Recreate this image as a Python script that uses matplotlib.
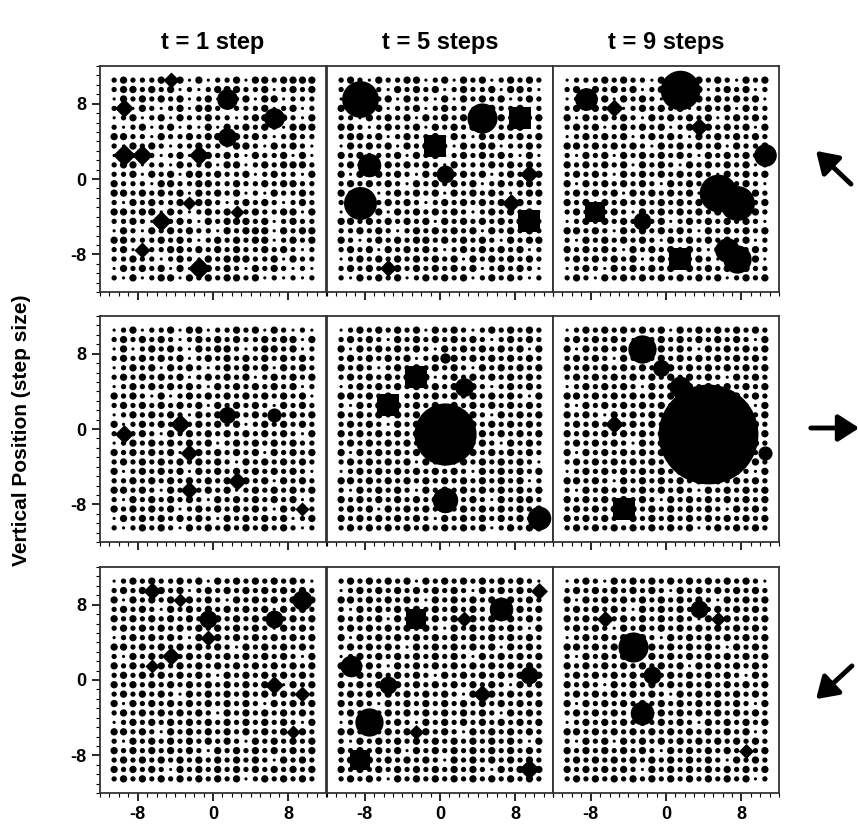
import numpy as np
import matplotlib.pyplot as plt
from matplotlib.patches import FancyArrowPatch
from matplotlib.ticker import FixedLocator, MultipleLocator

plt.rcParams['font.family'] = ['Liberation Sans Narrow', 'Liberation Sans', 'DejaVu Sans']
plt.rcParams['font.weight'] = 'bold'
plt.rcParams['axes.unicode_minus'] = False

titles = ["t = 1 step", "t = 5 steps", "t = 9 steps"]
ylab = "Vertical Position (step size)"
tick_vals = [-8, 0, 8]
sites = np.arange(-10.5, 11.0, 1.0)   # 22 lattice sites per axis

# background occupancy, top row of lattice first; 1 = small dot, 2 = medium, 3 = large
dots_r0c0 = ["2322231313122313323333", "2332323121233322312323", "1323232312312231331222",
             "2213212313321222312312", "1231231322322123323213", "2123123121313232321333",
             "3322132232332323212322", "2132321223221332132321", "1323212312323213223131",
             "2331221322313312323332", "2231323133232231232213", "3222133223322322323322",
             "3323232313232312132232", "2132322323321232321232", "3323313212323323223313",
             "2232132321323332312322", "1321323232213233313233", "3322232321232323312323",
             "2313223323232322323212", "2232212321323332231322", "1323231312323213232121",
             "2131233132323323121212"]
dots_r0c1 = ["2321322331231323123232", "2333213232312322313321", "1323231322131323231232",
             "3232312231232213322312", "2213232313232321232323", "3321232231323232123312",
             "2332312322313213232323", "1323231323221323312232", "3232223132312323232131",
             "2323132323213222323232", "3132323213232323123223", "2323232132323231232332",
             "3232123232313232321233", "2323232321232323232322", "1232313232323212323231",
             "3323232323132323232322", "2232321232323231323232", "3212323233232323213233",
             "2323132323212323232312", "1232323232323132323232", "2323213232323231232321",
             "2132323123232312323212"]
dots_r0c2 = ["1222323221313232321323", "2313232312323231232312", "1232313232123232323231",
             "2323231232323123231322", "3132323213232323123232", "2323123232312323232313",
             "1232323123232132323232", "3323232321323232313223", "2132313232323213232321",
             "3232323132321323232312", "2323213232323232132323", "3132323232132323232321",
             "2323231323232313232332", "3231323232323231323223", "2323232132323232313232",
             "1232323232312323232321", "3323213232323213232323", "2132323232132323232312",
             "3232321323232321323232", "2323232312323232123231", "1232132323231323232322",
             "2321323232323232312323"]
dots_r1c0 = ["1231223133122323132121", "2323232123232322323313", "1312323213233212332312",
             "2323232312323232323232", "1232313232123232313232", "2323232312323231232323",
             "1232323232132323232312", "3232131232323232323231", "2323232323132323213232",
             "1232323213232323232323", "3123232323232312323232", "2323213232323232323213",
             "1232323232312323232322", "3232323123232323132323", "2323232323232132323232",
             "3123232313232323232321", "2232323232323232313232", "3323213232323123232323",
             "2132323232132323232312", "3232323123232323213232", "1323232323213232323123",
             "2123232132323232323212"]
dots_r1c1 = ["1232323231323212323232", "2323213232323232123232", "3132323232132323232313",
             "2323232312323232323232", "3232123232323213232323", "2323232323123232323232",
             "1232323232323232123232", "3323231232323232323213", "2132323232313232323232",
             "3232323232323232132323", "2323213232323232323232", "3232323232132323232323",
             "2323232323232323213232", "3132323232323232323232", "2323232313232323232321",
             "1232323232323213232323", "3323232323232323232312", "2132323213232323232323",
             "3232323232323232132332", "2323132323232323232323", "3232323232132323232322",
             "2323232323232323123233"]
dots_r1c2 = ["1232323232313232323232", "2323232132323232323213", "3132323232323213232323",
             "2323213232323232323232", "3232323232132323232323", "2323232323232323213232",
             "1232323213232323232323", "3323232323232132323232", "2132323232323232323213",
             "3232132323232323232323", "2323232323213232323232", "3232323232323232321323",
             "2323232132323232323232", "3132323232323232132323", "2323232323213232323232",
             "1232323232323232323213", "3323213232323232323232", "2132323232323213232323",
             "3232323232132323232323", "2323232323232323213232", "3232321323232323232323",
             "2323232323232312323232"]
dots_r2c0 = ["1232322323132323232321", "2323232312323232323232", "3132323232321323232323",
             "2323213232323232313232", "3232323232132323232323", "2323232323232323213232",
             "1232323213232323232323", "3323232323232132323232", "2132323232323232323213",
             "3232132323232323232323", "2323232323213232323232", "3232323232323232321323",
             "2323232132323232323232", "3132323232323232132323", "2323232323213232323232",
             "1232323232323232323213", "3323213232323232323232", "2132323232323213232323",
             "3232323232132323232323", "2323232323232323213232", "3232321323232323232323",
             "2323232323232312323232"]
dots_r2c1 = ["2323232313232323232321", "1232323232323213232323", "3323232321323232323232",
             "2132323232323232132323", "3232313232323232323232", "2323232323213232323213",
             "3132323232323232323232", "2323232132323232313232", "1232323232323213232323",
             "3323213232323232323232", "2132323232132323232323", "3232323232323232321323",
             "2323232323232132323232", "3232132323232323232323", "2323232323232323213232",
             "1232323213232323232323", "3323232323232132323232", "2132323232323232323213",
             "3232323132323232323232", "2323232323213232323232", "3232323232323232132323",
             "2323213232323232323232"]
dots_r2c2 = ["1232132323232323232321", "2323232323213232323232", "3132323232323232132323",
             "2323232132323232323232", "3232323232323213232323", "2323213232323232323232",
             "1232323232132323232323", "3323232323232323213232", "2132323213232323232323",
             "3232323232323132323232", "2323232323232323232132", "3232132323232323232323",
             "2323232323213232323232", "3132323232323232323213", "2323232132323232323232",
             "1232323232323213232323", "3323232323232323232312", "2132313232323232323232",
             "3232323232132323232323", "2323232323232323213232", "3232323213232323232323",
             "2323232323232323232312"]

# large particles: (x, y, diameter in steps, shape)
big_r0c0 = [(-4.5, 10.5, 1.7, 'D'), (1.5, 8.5, 2.2, 'o'), (-9.5, 7.5, 2.0, 'D'), (6.5, 6.5, 2.2, 'o'),
            (1.5, 4.5, 2.0, 'o'), (-9.5, 2.5, 2.4, 'D'), (-7.5, 2.5, 2.2, 'D'), (-1.5, 2.5, 2.2, 'D'),
            (-2.5, -2.5, 1.5, 'D'), (2.5, -3.5, 1.5, 'D'), (-5.5, -4.5, 2.2, 'D'), (-7.5, -7.5, 1.7, 'D'),
            (-1.5, -9.5, 2.4, 'D')]
big_r0c1 = [(-8.5, 8.5, 3.9, 'o'), (4.5, 6.5, 3.2, 'o'), (8.5, 6.5, 2.3, 's'), (-0.5, 3.5, 2.3, 's'),
            (-7.5, 1.5, 2.5, 'o'), (0.5, 0.5, 1.9, 'o'), (9.5, 0.5, 2.0, 'D'), (-8.5, -2.5, 3.5, 'o'),
            (7.5, -2.5, 2.0, 'D'), (9.5, -4.5, 2.3, 's'), (-5.5, -9.5, 1.8, 'D')]
big_r0c2 = [(-8.5, 8.5, 2.4, 'o'), (-5.5, 7.5, 1.9, 'D'), (1.5, 9.5, 4.2, 'o'), (3.5, 5.5, 2.0, 'D'),
            (10.5, 2.5, 2.4, 'o'), (5.5, -1.5, 4.0, 'o'), (7.5, -2.5, 3.7, 'o'), (-7.5, -3.5, 2.1, 's'),
            (-2.5, -4.5, 1.9, 'o'), (1.5, -8.5, 2.3, 's'), (6.5, -7.5, 2.6, 'o'), (7.5, -8.5, 3.0, 'o')]
big_r1c0 = [(-9.5, -0.5, 2.0, 'D'), (-3.5, 0.5, 2.2, 'D'), (1.5, 1.5, 1.8, 'o'), (6.5, 1.5, 1.5, 'o'),
            (-2.5, -2.5, 1.9, 'D'), (2.5, -5.5, 2.0, 'D'), (-2.5, -6.5, 1.9, 'D'), (9.5, -8.5, 1.5, 'D')]
big_r1c1 = [(0.5, 7.5, 1.1, 'o'), (-2.5, 5.5, 2.4, 's'), (2.5, 4.5, 2.0, 'o'), (-5.5, 2.5, 2.3, 's'),
            (0.5, -0.5, 6.6, 'o'), (0.5, -7.5, 2.7, 'o'), (10.5, -9.5, 2.5, 'o')]
big_r1c2 = [(-2.5, 8.5, 3.0, 'o'), (-0.5, 6.5, 1.8, 'o'), (1.5, 4.5, 2.3, 'o'), (4.5, -0.5, 10.6, 'o'),
            (10.5, -2.5, 1.5, 'o'), (-5.5, 0.5, 2.0, 'D'), (-4.5, -8.5, 2.3, 's')]
big_r2c0 = [(-6.5, 9.5, 1.9, 'D'), (-3.5, 8.5, 1.5, 'D'), (-0.5, 6.5, 1.9, 'o'), (-0.5, 4.5, 1.7, 'D'),
            (9.5, 8.5, 2.1, 'o'), (6.5, 6.5, 1.9, 'o'), (-4.5, 2.5, 2.0, 'D'), (-6.5, 1.5, 1.5, 'D'),
            (6.5, -0.5, 2.0, 'D'), (9.5, -1.5, 1.7, 'D'), (8.5, -5.5, 1.5, 'D')]
big_r2c1 = [(10.5, 9.5, 1.8, 'D'), (-9.5, 1.5, 2.3, 'o'), (-5.5, -0.5, 1.9, 'o'), (-7.5, -4.5, 3.0, 'o'),
            (-8.5, -8.5, 2.1, 's'), (-2.5, 6.5, 2.1, 's'), (2.5, 6.5, 1.7, 'D'), (6.5, 7.5, 2.5, 'o'),
            (4.5, -1.5, 2.0, 'D'), (9.5, 0.5, 1.9, 'o'), (-2.5, -5.5, 1.6, 'D'), (9.5, -9.5, 2.2, 'D')]
big_r2c2 = [(-6.5, 6.5, 1.8, 'D'), (-3.5, 3.5, 3.2, 'o'), (-1.5, 0.5, 1.9, 'o'), (-2.5, -3.5, 2.5, 'o'),
            (3.5, 7.5, 1.9, 'o'), (5.5, 6.5, 1.6, 'D'), (8.5, -7.5, 1.6, 'D')]

dots = [[dots_r0c0, dots_r0c1, dots_r0c2], [dots_r1c0, dots_r1c1, dots_r1c2], [dots_r2c0, dots_r2c1, dots_r2c2]]
bigs = [[big_r0c0, big_r0c1, big_r0c2], [big_r1c0, big_r1c1, big_r1c2], [big_r2c0, big_r2c1, big_r2c2]]

W, H = 858, 832
fig = plt.figure(figsize=(W / 100, H / 100), dpi=100)

lefts = [100, 327, 553]
tops = [66, 316, 567]
side = 226
lim = 12.0
pt_step = side * 0.72 / (2 * lim)           # points per lattice step
dot_d = np.array([0.0, 3.2, 5.3, 7.3]) * 0.72  # dot diameters in points

X, Y = np.meshgrid(sites, sites[::-1])

for r in range(3):
    for c in range(3):
        ax = fig.add_axes([lefts[c] / W, 1 - (tops[r] + side) / H, side / W, side / H])
        lv = np.array([[int(ch) for ch in row] for row in dots[r][c]])
        ax.scatter(X.ravel(), Y.ravel(), s=dot_d[lv.ravel()] ** 2, c='k', linewidths=0)
        for x, y, d, m in bigs[r][c]:
            ms = d * pt_step / (1.414 if m == 'D' else 1.0)
            ax.scatter([x], [y], s=ms ** 2, marker=m, c='k', linewidths=0, zorder=3)
        ax.set_xlim(-lim, lim)
        ax.set_ylim(-lim, lim)
        ax.xaxis.set_major_locator(FixedLocator(tick_vals))
        ax.yaxis.set_major_locator(FixedLocator(tick_vals))
        ax.xaxis.set_minor_locator(MultipleLocator(1))
        ax.yaxis.set_minor_locator(MultipleLocator(1))
        ax.tick_params(which='major', direction='out', length=6, width=1.2, labelsize=13)
        ax.tick_params(which='minor', direction='out', length=3, width=0.8)
        ax.tick_params(left=(c == 0), labelleft=(c == 0), which='both')
        ax.tick_params(labelbottom=(r == 2))
        for sp in ax.spines.values():
            sp.set_linewidth(1.3)
            sp.set_color('#333333')
        if r == 0:
            ax.set_title(titles[c], fontsize=17, fontweight='bold', pad=12)

fig.text(0.025, 1 - 430 / H, ylab, rotation=90, ha='center', va='center', fontsize=15, fontweight='bold')

arrows = [((853, 186), (814, 149)), ((808, 428), (862, 428)), ((854, 664), (814, 701))]
for (x0, y0), (x1, y1) in arrows:
    fig.add_artist(FancyArrowPatch((x0 / W, 1 - y0 / H), (x1 / W, 1 - y1 / H), transform=fig.transFigure,
                                   arrowstyle='-|>,head_length=0.7,head_width=0.45', mutation_scale=18,
                                   lw=3.5, color='k'))

fig.savefig("out.png", dpi=100)
